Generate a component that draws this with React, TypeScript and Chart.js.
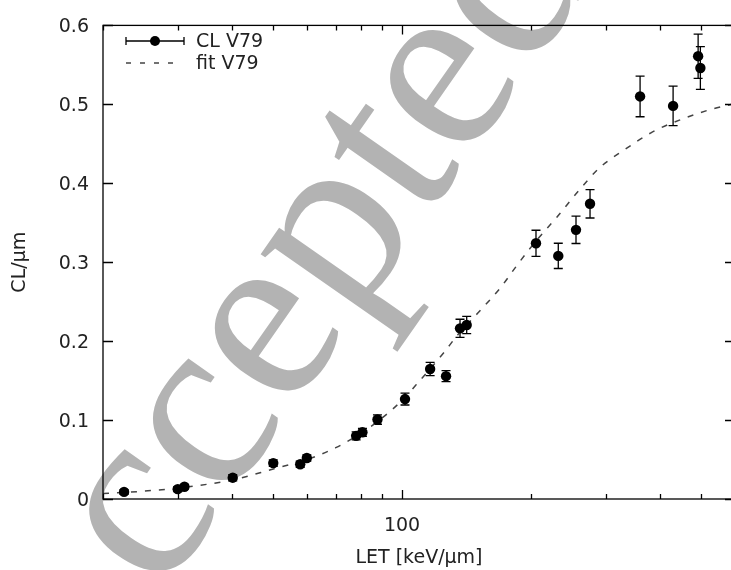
import { useEffect, useRef } from 'react';
import { Chart, registerables } from 'chart.js';

Chart.register(...registerables);

// ---- data ----
const letValues = [22.4, 29.9, 31.0, 40.2, 50.0, 57.8, 59.9, 78.1, 80.8, 87.6, 101.6, 116.3, 126.7, 136.6, 141.6, 205.6, 231.8, 255, 275, 360, 430, 492, 498];
const clValues = [0.009, 0.0125, 0.0155, 0.027, 0.0455, 0.044, 0.052, 0.080, 0.0845, 0.1007, 0.1266, 0.1647, 0.1556, 0.2162, 0.2204, 0.324, 0.308, 0.341, 0.374, 0.510, 0.498, 0.561, 0.546];
const clErrors = [0.003, 0.003, 0.003, 0.004, 0.004, 0.004, 0.004, 0.005, 0.005, 0.006, 0.0075, 0.0084, 0.007, 0.0115, 0.011, 0.0165, 0.016, 0.0173, 0.018, 0.0257, 0.025, 0.028, 0.027];

const fitLet = [20, 25, 30, 40, 50, 60, 70, 80, 90, 100, 110, 125, 135, 150, 170, 185, 205, 230, 260, 290, 330, 385, 445, 530, 600];
const fitCl = [0.007, 0.010, 0.014, 0.024, 0.038, 0.050, 0.065, 0.083, 0.103, 0.125, 0.150, 0.185, 0.208, 0.235, 0.268, 0.295, 0.326, 0.357, 0.392, 0.420, 0.442, 0.465, 0.480, 0.494, 0.501];

const yTickValues = [0, 0.1, 0.2, 0.3, 0.4, 0.5, 0.6];
const xMarkTicks = [20, 30, 40, 50, 60, 70, 80, 90, 100, 200, 300, 400, 500, 600];
const xMajorTicks = [100];
const xLabelTicks = [100];
const seriesLabels = ['CL V79', 'fit V79'];
const xTitle = 'LET [keV/μm]';
const yTitle = 'CL/μm';
const watermarkText = 'Accepted';

const X_MIN = 20;
const X_MAX = 600;
const Y_MIN = 0;
const Y_MAX = 0.6;

const CANVAS_W = 745;
const CANVAS_H = 570;
const FONT = '"DejaVu Sans", sans-serif';
const FONT_SIZE = 19;
const TEXT_COLOR = '#222';

export default function App() {
  const canvasRef = useRef<HTMLCanvasElement | null>(null);

  useEffect(() => {
    const canvas = canvasRef.current;
    if (!canvas) return;

    const watermarkPlugin = {
      id: 'watermark',
      beforeDraw(chart: any) {
        const ctx = chart.ctx;
        ctx.save();
        ctx.fillStyle = '#b3b3b3';
        ctx.font = '250px "Liberation Serif", serif';
        ctx.textBaseline = 'alphabetic';
        ctx.translate(57, 745);
        ctx.rotate((-55 * Math.PI) / 180);
        ctx.fillText(watermarkText, 0, 0);
        ctx.restore();
      },
    };

    const errorBarPlugin = {
      id: 'errorBars',
      beforeDatasetsDraw(chart: any) {
        const ctx = chart.ctx;
        const xs = chart.scales.x;
        const ys = chart.scales.y;
        ctx.save();
        ctx.strokeStyle = '#000';
        ctx.lineWidth = 1.3;
        for (let i = 0; i < letValues.length; i++) {
          const px = xs.getPixelForValue(letValues[i]);
          const yTop = ys.getPixelForValue(clValues[i] + clErrors[i]);
          const yBot = ys.getPixelForValue(clValues[i] - clErrors[i]);
          ctx.beginPath();
          ctx.moveTo(px, yTop);
          ctx.lineTo(px, yBot);
          ctx.moveTo(px - 4.5, yTop);
          ctx.lineTo(px + 4.5, yTop);
          ctx.moveTo(px - 4.5, yBot);
          ctx.lineTo(px + 4.5, yBot);
          ctx.stroke();
        }
        ctx.restore();
      },
    };

    const framePlugin = {
      id: 'frame',
      afterDraw(chart: any) {
        const ctx = chart.ctx;
        const { left, right, top, bottom } = chart.chartArea;
        const xs = chart.scales.x;
        const ys = chart.scales.y;
        ctx.save();
        ctx.strokeStyle = '#000';
        ctx.lineWidth = 1.3;
        ctx.strokeRect(left, top, right - left, bottom - top);
        ctx.beginPath();
        for (const v of yTickValues) {
          const py = Math.round(ys.getPixelForValue(v)) + 0.5;
          ctx.moveTo(left, py);
          ctx.lineTo(left + 10, py);
          ctx.moveTo(right, py);
          ctx.lineTo(right - 10, py);
        }
        for (const v of xMarkTicks) {
          const px = Math.round(xs.getPixelForValue(v)) + 0.5;
          const len = xMajorTicks.includes(v) ? 9 : 5;
          ctx.moveTo(px, bottom);
          ctx.lineTo(px, bottom - len);
          ctx.moveTo(px, top);
          ctx.lineTo(px, top + len);
        }
        ctx.stroke();

        // legend
        const y1 = 41;
        const y2 = 63;
        ctx.lineWidth = 1.3;
        ctx.strokeStyle = '#000';
        ctx.beginPath();
        ctx.moveTo(126, y1);
        ctx.lineTo(184, y1);
        ctx.moveTo(126, y1 - 4);
        ctx.lineTo(126, y1 + 4);
        ctx.moveTo(184, y1 - 4);
        ctx.lineTo(184, y1 + 4);
        ctx.stroke();
        ctx.fillStyle = '#000';
        ctx.beginPath();
        ctx.arc(155, y1, 5, 0, Math.PI * 2);
        ctx.fill();

        ctx.strokeStyle = '#444';
        ctx.lineWidth = 1.4;
        ctx.setLineDash([5, 9]);
        ctx.beginPath();
        ctx.moveTo(126, y2);
        ctx.lineTo(182, y2);
        ctx.stroke();
        ctx.setLineDash([]);

        ctx.fillStyle = TEXT_COLOR;
        ctx.font = `${FONT_SIZE}px ${FONT}`;
        ctx.textBaseline = 'middle';
        ctx.textAlign = 'left';
        ctx.fillText(seriesLabels[0], 196, y1 + 1);
        ctx.fillText(seriesLabels[1], 196, y2 + 1);
        ctx.restore();
      },
    };

    const chart = new Chart(canvas, {
      type: 'scatter',
      data: {
        datasets: [
          {
            type: 'scatter',
            label: seriesLabels[0],
            data: letValues.map((x, i) => ({ x, y: clValues[i] })),
            pointRadius: 5.2,
            pointHoverRadius: 5.2,
            pointBackgroundColor: '#000',
            pointBorderColor: '#000',
            pointBorderWidth: 0,
            order: 0,
          },
          {
            type: 'line',
            label: seriesLabels[1],
            data: fitLet.map((x, i) => ({ x, y: fitCl[i] })),
            borderColor: '#444',
            borderWidth: 1.5,
            borderDash: [6, 8],
            pointRadius: 0,
            fill: false,
            cubicInterpolationMode: 'monotone',
            order: 1,
          } as any,
        ],
      },
      options: {
        animation: false,
        responsive: false,
        maintainAspectRatio: false,
        devicePixelRatio: 1,
        layout: { padding: { top: 21, right: 10, left: 0, bottom: 0 } },
        plugins: {
          legend: { display: false },
          tooltip: { enabled: false },
          title: { display: false },
        },
        scales: {
          x: {
            type: 'logarithmic',
            min: X_MIN,
            max: X_MAX,
            grid: { display: false, drawTicks: false },
            border: { display: false },
            afterBuildTicks: (s: any) => {
              s.ticks = xLabelTicks.map((v) => ({ value: v }));
            },
            afterFit: (s: any) => {
              s.height = 71;
            },
            ticks: {
              autoSkip: false,
              maxRotation: 0,
              padding: 16,
              color: TEXT_COLOR,
              font: { family: FONT, size: FONT_SIZE },
              callback: (v: any) => String(v),
            },
            title: {
              display: true,
              text: xTitle,
              color: TEXT_COLOR,
              font: { family: FONT, size: FONT_SIZE },
              padding: { top: 0, bottom: 1 },
            },
          },
          y: {
            type: 'linear',
            min: Y_MIN,
            max: Y_MAX,
            grid: { display: false, drawTicks: false },
            border: { display: false },
            afterBuildTicks: (s: any) => {
              s.ticks = yTickValues.map((v) => ({ value: v }));
            },
            afterFit: (s: any) => {
              s.width = 103;
            },
            ticks: {
              padding: 14,
              labelOffset: 2,
              color: TEXT_COLOR,
              font: { family: FONT, size: FONT_SIZE },
              callback: (v: any) => (Number(v) === 0 ? '0' : Number(v).toFixed(1)),
            },
            title: {
              display: true,
              text: yTitle,
              color: TEXT_COLOR,
              font: { family: FONT, size: FONT_SIZE },
              padding: { top: 9, bottom: 0 },
            },
          },
        },
      },
      plugins: [watermarkPlugin, errorBarPlugin, framePlugin],
    });

    return () => {
      chart.destroy();
    };
  }, []);

  return (
    <div
      style={{
        position: 'fixed',
        left: 0,
        top: 0,
        width: 731,
        height: 570,
        overflow: 'hidden',
        background: '#fff',
      }}
    >
      <canvas
        ref={canvasRef}
        width={CANVAS_W}
        height={CANVAS_H}
        style={{ display: 'block', width: CANVAS_W, height: CANVAS_H }}
      />
    </div>
  );
}
